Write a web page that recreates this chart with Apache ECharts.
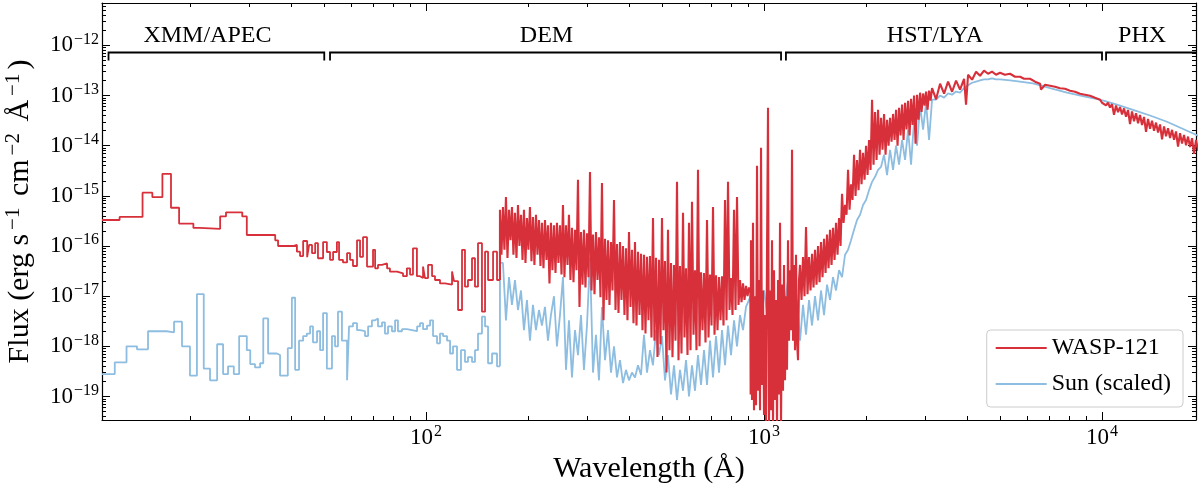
<!DOCTYPE html>
<html>
<head>
<meta charset="utf-8">
<script src="https://cdn.jsdelivr.net/npm/echarts@6/dist/echarts.min.js"></script>
<style>
  html, body { margin: 0; padding: 0; background: #fff; }
  #chart { width: 1200px; height: 488px; }
</style>
</head>
<body>
<div id="chart"></div>
<script>
///////////////////////////////////////////////////
// Data: [wavelength (Å), flux]
///////////////////////////////////////////////////
// WASP-121, binned parts (drawn as steps)
var waspXmm = [
  [11.0, 3.3e-16], [12.4, 3.8e-16], [14.5, 1.16e-15], [15.5, 9.4e-16], [16.6, 2.75e-15],
  [17.6, 5.8e-16], [18.6, 2.8e-16], [20.5, 2.3e-16], [21.4, 2.2e-16], [24.6, 3.9e-16],
  [25.6, 4.7e-16], [28.6, 3.9e-16], [29.5, 1.66e-16], [35.8, 1.3e-16], [36.5, 1.0e-16],
  [40.4, 1.05e-16], [41.5, 7.7e-17], [42.4, 6.3e-17], [43.3, 1.26e-16], [44.5, 6.0e-17],
  [45.1, 1.05e-16], [46.0, 7.2e-17], [47.0, 1.14e-16], [47.9, 5.7e-17], [49.6, 1.2e-16]
];
var waspDemBinned = [
  [50.9, 7.6e-17], [52.0, 5.3e-17], [53.1, 7.6e-17], [54.5, 1.2e-16], [55.3, 5.3e-17],
  [56.8, 4.7e-17], [58.4, 7.2e-17], [59.6, 5.3e-17], [60.8, 4.0e-17], [62.5, 1.3e-16],
  [63.8, 6.1e-17], [65.1, 1.5e-16], [66.9, 3.9e-17], [69.7, 8.4e-17], [70.7, 3.6e-17],
  [72.1, 4.2e-17], [74.1, 4.5e-17], [76.7, 3.6e-17], [78.2, 3.1e-17], [82.1, 2.85e-17],
  [85.5, 2.5e-17], [87.8, 3.6e-17], [89.7, 2.7e-17], [91.5, 9.0e-17], [94.0, 2.5e-17],
  [96.0, 2.3e-17], [98.0, 3.9e-17], [99.3, 2.3e-17], [101.4, 4.2e-17], [104.2, 2.5e-17],
  [106.3, 2.1e-17], [110.0, 1.8e-17], [113.8, 1.7e-17], [119.4, 3.1e-17], [121.0, 2.0e-17],
  [124.4, 5.3e-18], [127.8, 8.4e-17], [130.4, 1.55e-17], [133.1, 2.1e-17], [136.8, 5.7e-17],
  [139.6, 1.55e-17], [142.5, 1.14e-16], [146.4, 4.9e-18], [149.5, 7.7e-17], [152.6, 2.1e-17],
  [157.9, 7.7e-17], [162.2, 2.1e-17], [165.5, 2.1e-17]
];
// WASP-121, line-rich parts
var waspDemLines = [
  [165.5, 2.1e-17], [165.5, 5.3e-16], [167.2, 6.7e-17], [168.9, 6.0e-16], [170.6, 8.4e-17],
  [172.4, 9.5e-16], [174.2, 5.8e-17], [176.0, 5.3e-16], [177.8, 1.3e-16], [179.6, 6.0e-16],
  [181.4, 6.7e-17], [183.3, 4.6e-16], [185.2, 5.8e-17], [187.1, 6.6e-16], [189.0, 1.0e-16],
  [191.0, 4.2e-16], [193.0, 5.3e-17], [194.9, 5.3e-16], [196.9, 4.6e-17], [198.9, 3.6e-16],
  [200.9, 8.4e-17], [203.0, 6.0e-16], [205.1, 5.0e-17], [207.2, 3.8e-16], [209.3, 4.2e-17],
  [211.5, 4.2e-16], [213.7, 6.7e-17], [215.9, 3.3e-16], [218.1, 4.0e-17], [220.3, 2.9e-16],
  [222.6, 3.6e-17], [224.9, 3.3e-16], [227.2, 5.3e-17], [229.5, 2.6e-16], [231.9, 1.8e-17],
  [234.2, 2.9e-16], [236.6, 3.3e-17], [239.1, 2.6e-16], [241.6, 2.9e-17], [244.0, 2.9e-16],
  [246.5, 4.6e-17], [249.1, 2.6e-16], [251.7, 2.7e-17], [254.2, 6.6e-16], [256.8, 2.4e-17],
  [259.5, 2.6e-16], [262.2, 4.2e-17], [264.8, 4.2e-16], [267.5, 2.1e-17], [270.3, 2.3e-16],
  [273.1, 1.9e-17], [275.9, 2.1e-16], [278.7, 3.3e-17], [281.6, 2.1e-15], [284.5, 6.1e-18],
  [287.4, 1.9e-16], [290.4, 1.7e-17], [293.3, 2.1e-16], [296.3, 1.5e-17], [299.4, 1.8e-16],
  [302.5, 2.4e-17], [305.6, 3.0e-15], [308.7, 1.3e-17], [311.9, 1.7e-16], [315.1, 1.1e-17],
  [318.3, 1.9e-16], [321.6, 2.1e-17], [324.9, 1.5e-16], [328.2, 9.5e-18], [331.6, 1.8e-15],
  [335.0, 3.3e-18], [338.5, 1.4e-16], [342.0, 8.4e-18], [345.5, 1.3e-16], [349.0, 6.7e-18],
  [352.6, 1.2e-16], [356.2, 1.3e-17], [359.9, 8.3e-16], [363.6, 5.3e-18], [367.3, 1.1e-16],
  [371.1, 4.6e-18], [374.9, 1.2e-16], [378.7, 8.4e-18], [382.6, 1.0e-16], [386.5, 4.2e-18],
  [390.5, 9.0e-17], [394.5, 3.3e-18], [398.6, 1.9e-16], [402.7, 6.1e-18], [406.8, 8.4e-17],
  [411.0, 2.9e-18], [415.2, 1.2e-16], [419.5, 2.6e-18], [423.8, 7.7e-17], [428.2, 4.2e-18],
  [432.6, 7.0e-17], [437.0, 2.1e-18], [441.5, 6.7e-17], [446.0, 1.8e-18], [450.6, 6.1e-17],
  [455.2, 3.3e-18], [459.9, 6.3e-17], [464.6, 1.5e-18], [469.4, 3.6e-16], [474.2, 1.3e-18],
  [479.1, 5.8e-17], [484.0, 6.1e-19], [489.0, 5.3e-17], [494.0, 1.1e-18], [499.1, 3.6e-16],
  [504.2, 2.1e-18], [509.4, 5.0e-17], [514.6, 3.0e-19], [519.9, 2.1e-16], [525.2, 8.4e-19],
  [530.7, 4.6e-17], [536.1, 6.1e-19], [541.6, 4.2e-17], [547.2, 1.3e-18], [552.8, 1.9e-15],
  [558.5, 5.3e-19], [564.2, 4.0e-17], [570.0, 7.2e-19], [575.9, 4.6e-16], [581.8, 1.5e-18],
  [587.8, 3.6e-17], [593.8, 6.7e-19], [599.9, 2.9e-16], [606.1, 8.4e-19], [612.3, 7.6e-16],
  [618.6, 1.7e-18], [624.9, 3.3e-17], [631.3, 8.4e-19], [637.8, 3.3e-15], [644.4, 1.0e-18],
  [651.0, 3.0e-17], [657.7, 2.1e-18], [664.5, 2.9e-17], [671.3, 1.2e-18], [678.2, 3.3e-16],
  [685.2, 1.5e-18], [692.2, 2.7e-17], [699.3, 2.6e-18], [706.5, 6.0e-16], [713.8, 1.7e-18],
  [721.1, 2.6e-17], [728.5, 2.1e-18], [736.0, 2.4e-17], [743.6, 3.3e-18], [751.2, 2.5e-17],
  [758.9, 2.6e-18], [766.7, 8.3e-16], [774.6, 3.3e-18], [782.5, 1.9e-15], [790.5, 5.3e-18],
  [798.7, 2.3e-17], [806.9, 4.2e-18], [815.2, 5.3e-16], [823.6, 5.3e-18], [832.0, 9.5e-16],
  [840.5, 6.7e-18], [849.2, 2.1e-17], [857.9, 7.6e-18], [866.7, 1.8e-17], [875.6, 8.4e-18],
  [884.6, 1.6e-17], [893.7, 1.0e-17], [902.9, 1.5e-17], [911.0, 1.2e-17]
];
var waspLyman = [
  [913.0, 1.1e-19], [915.2, 1.3e-16], [921.5, 8.5e-20], [927.8, 2.9e-16], [934.1, 5.3e-20],
  [940.5, 1.0e-17], [947.0, 6.7e-20], [953.5, 4.0e-15], [960.0, 1.3e-19], [966.6, 2.1e-17],
  [973.2, 5.3e-20], [979.9, 9.1e-15], [986.5, 1.7e-19], [993.3, 1.3e-17], [1000, 4.3e-20],
  [1006.8, 4.2e-18], [1013.7, 2.7e-20], [1020.6, 6.7e-17], [1027.6, 5.7e-14], [1034.6, 2.5e-20],
  [1041.7, 1.3e-17], [1048.8, 5.3e-20], [1056.0, 1.3e-16], [1063.2, 2.5e-20], [1070.5, 3.3e-17],
  [1077.8, 8.5e-20], [1085.2, 8.4e-18], [1092.6, 2.5e-20], [1100.1, 2.1e-17], [1107.6, 1.1e-19],
  [1115.2, 2.9e-16], [1122.8, 2.5e-20], [1130.5, 1.7e-17], [1138.2, 1.3e-19], [1146.0, 4.2e-17],
  [1153.8, 2.1e-19], [1161.7, 1.0e-17], [1169.7, 3.4e-19], [1177.6, 1.3e-16], [1185.7, 1.3e-18],
  [1193.8, 3.3e-17], [1202.0, 2.1e-18], [1210.2, 8.3e-15], [1218.5, 1.3e-18], [1226.8, 4.2e-17],
  [1235.2, 8.4e-19], [1243.6, 6.7e-17], [1252.1, 1.3e-18], [1260.7, 5.3e-19], [1269.3, 2.1e-17],
  [1278.0, 4.2e-17]
];
var waspUv = [
  [1291.1, 8.4e-18], [1304.4, 6.0e-17], [1317.8, 1.0e-17], [1331.3, 2.4e-16], [1345.0, 1.1e-17],
  [1358.8, 6.0e-17], [1372.8, 1.3e-17], [1386.9, 7.0e-17], [1401.1, 1.5e-17], [1415.5, 8.4e-17],
  [1430.0, 1.7e-17], [1444.8, 1.0e-16], [1459.6, 1.9e-17], [1474.6, 1.2e-16], [1489.7, 2.4e-17],
  [1505.1, 1.4e-16], [1520.6, 2.9e-17], [1536.2, 1.7e-16], [1552.0, 3.6e-17], [1567.9, 2.1e-16],
  [1584.0, 4.2e-17], [1600.3, 2.3e-16], [1616.7, 5.3e-17], [1633.3, 2.9e-16], [1650.1, 6.7e-17],
  [1667.1, 3.6e-16], [1684.2, 1.0e-16], [1701.5, 1.1e-15], [1719.0, 2.9e-16], [1736.7, 6.6e-16],
  [1754.5, 4.2e-16], [1772.5, 3.3e-15], [1790.7, 5.3e-16], [1809.1, 1.7e-15], [1827.7, 8.3e-16],
  [1846.5, 6.6e-15], [1865.5, 1.0e-15], [1884.6, 5.2e-15], [1904.0, 1.3e-15], [1923.6, 8.3e-15],
  [1943.3, 1.7e-15], [1963.3, 7.2e-15], [1983.5, 2.1e-15], [2003.9, 1.0e-14], [2024.5, 2.6e-15],
  [2045.3, 1.3e-14], [2066.3, 3.3e-15], [2087.5, 8.2e-14], [2108.9, 4.2e-15], [2130.6, 4.7e-14],
  [2152.5, 5.2e-15], [2174.6, 5.2e-14], [2197.0, 6.6e-15], [2219.5, 3.6e-14], [2242.3, 8.3e-15],
  [2265.4, 4.3e-14], [2288.7, 6.6e-15], [2312.2, 3.3e-14], [2335.9, 1.0e-14], [2359.9, 3.6e-14],
  [2384.1, 1.2e-14], [2408.7, 4.3e-14], [2433.4, 1.3e-14], [2458.4, 5.2e-14], [2483.7, 1.0e-14],
  [2509.2, 5.7e-14], [2535.0, 1.6e-14], [2561.0, 6.6e-14], [2587.3, 1.3e-14], [2613.9, 7.2e-14],
  [2640.7, 2.1e-14], [2667.9, 7.9e-14], [2695.3, 1.6e-14], [2723.0, 8.6e-14], [2751.0, 2.6e-14],
  [2779.3, 1.0e-13], [2807.8, 1.1e-14], [2836.7, 1.04e-13], [2865.8, 3.3e-14], [2895.3, 1.14e-13],
  [2925.0, 4.7e-14], [2955.1, 1.1e-13], [2985.4, 6.3e-14], [3016.1, 1.2e-13], [3047.1, 5.2e-14],
  [3078.4, 1.25e-13], [3110.0, 7.9e-14], [3142.0, 1.4e-13]
];
var waspOptical = [
  [3229, 8.4e-14], [3318, 1.72e-13], [3410, 1.09e-13], [3504, 1.89e-13], [3601, 1.19e-13],
  [3700, 1.98e-13], [3802, 1.31e-13], [3907, 2.16e-13], [3960, 6.6e-14], [4015, 2.6e-13],
  [4126, 2.07e-13], [4240, 2.99e-13], [4357, 2.48e-13], [4477, 3.13e-13], [4601, 2.72e-13],
  [4728, 2.99e-13], [4858, 2.6e-13], [4992, 2.85e-13], [5160, 2.6e-13], [5343, 2.72e-13],
  [5530, 2.37e-13], [5721, 2.37e-13], [5880, 2.16e-13], [6124, 2.16e-13], [6337, 1.89e-13],
  [6556, 1.72e-13], [6600, 1.31e-13], [6785, 1.64e-13], [7019, 1.57e-13], [7262, 1.5e-13],
  [7512, 1.4e-13], [7772, 1.37e-13], [8042, 1.25e-13], [8320, 1.19e-13], [8608, 1.09e-13],
  [8905, 1.04e-13], [9216, 9.9e-14], [9534, 9.0e-14]
];
var waspInfrared = [
  [9865, 8.24e-14], [10000, 7.18e-14], [10137, 7.69e-14], [10276, 6.40e-14], [10417, 7.22e-14],
  [10560, 5.76e-14], [10705, 6.74e-14], [10852, 4.12e-14], [11001, 6.32e-14], [11152, 4.66e-14],
  [11305, 5.89e-14], [11460, 4.20e-14], [11617, 5.53e-14], [11777, 3.77e-14], [11938, 5.16e-14],
  [12102, 2.70e-14], [12268, 4.84e-14], [12436, 3.07e-14], [12607, 4.45e-14], [12780, 2.81e-14],
  [12955, 4.08e-14], [13133, 2.59e-14], [13313, 3.74e-14], [13496, 1.89e-14], [13681, 3.43e-14],
  [13869, 2.17e-14], [14059, 3.16e-14], [14252, 1.99e-14], [14448, 2.89e-14], [14646, 1.83e-14],
  [14847, 2.65e-14], [15051, 1.34e-14], [15257, 2.43e-14], [15466, 1.54e-14], [15679, 2.24e-14],
  [15894, 1.42e-14], [16112, 2.07e-14], [16333, 1.31e-14], [16557, 1.92e-14], [16784, 9.55e-15],
  [17014, 1.78e-14], [17248, 1.11e-14], [17485, 1.64e-14], [17725, 1.02e-14], [17968, 1.52e-14],
  [18215, 9.38e-15], [18465, 1.41e-14], [18718, 6.86e-15], [18975, 1.31e-14], [19235, 7.91e-15]
];

// Sun (scaled), binned parts
var sunXmm = [
  [11.0, 2.8e-19], [12.0, 4.8e-19], [13.0, 1.0e-18], [13.96, 8.7e-19], [15.05, 2.0e-18],
  [17.1, 1.9e-18], [17.97, 3.1e-18], [18.97, 1.0e-18], [20.03, 2.6e-19], [21.0, 1.1e-17],
  [22.0, 3.6e-19], [22.96, 2.1e-19], [24.1, 1.1e-18], [25.1, 2.8e-19], [25.96, 4.0e-19],
  [27.0, 2.8e-19], [28.0, 1.6e-18], [29.5, 8.4e-19], [30.2, 4.4e-19], [31.2, 3.8e-19],
  [32.3, 4.6e-19], [33.0, 3.6e-18], [34.1, 7.2e-19], [36.2, 6.7e-19], [37.0, 2.6e-19],
  [39.0, 9.2e-19], [40.1, 9.3e-18], [41.0, 3.4e-19], [42.1, 1.3e-18], [43.3, 1.6e-18],
  [44.4, 1.8e-18], [45.4, 2.5e-18], [46.3, 1.2e-18], [47.6, 2.0e-18], [48.6, 8.4e-19],
  [49.6, 4.6e-18]
];
var sunDemBinned = [
  [50.9, 3.6e-19], [52.7, 1.6e-18], [53.8, 1.0e-18], [54.9, 4.9e-18], [56.4, 1.3e-18],
  [58.4, 2.1e-19], [59.2, 2.5e-18], [60.8, 2.9e-18], [62.5, 2.1e-18], [63.8, 2.0e-18],
  [66.0, 1.6e-18], [67.4, 2.5e-18], [69.2, 3.3e-18], [70.7, 3.6e-18], [72.1, 2.5e-18],
  [74.1, 3.0e-18], [75.6, 1.8e-18], [77.2, 2.5e-18], [79.3, 2.0e-18], [81.0, 3.3e-18],
  [82.6, 2.0e-18], [84.9, 2.2e-18], [87.8, 2.1e-18], [90.9, 2.0e-18], [94.1, 2.5e-18],
  [96.0, 2.9e-18], [98.0, 2.2e-18], [100.7, 2.6e-18], [102.8, 3.3e-18], [104.9, 1.6e-18],
  [107.8, 1.15e-18], [110.0, 1.8e-18], [112.3, 1.6e-18], [115.4, 1.3e-18], [117.8, 7.2e-19],
  [120.2, 1.0e-18], [123.5, 3.4e-19], [126.9, 8.4e-19], [130.4, 4.9e-19], [133.1, 6.1e-19],
  [136.8, 4.9e-19], [139.6, 8.4e-19], [142.5, 1.8e-18], [146.4, 3.9e-18], [149.5, 2.5e-18],
  [152.6, 4.6e-19], [156.8, 7.2e-19], [162.2, 4.0e-19], [165.5, 4.0e-19]
];
// Sun (scaled), line-rich parts
var sunDemLines = [
  [165.5, 4.0e-19], [165.5, 4.6e-17], [168.9, 4.6e-17], [172.4, 3.3e-18], [176.0, 2.4e-17],
  [179.6, 6.7e-18], [183.3, 2.1e-17], [187.1, 5.3e-18], [191.0, 1.3e-17], [194.9, 2.1e-18],
  [198.9, 8.4e-18], [203.0, 1.3e-18], [207.2, 6.7e-18], [211.5, 2.1e-18], [215.9, 5.3e-18],
  [220.3, 2.6e-18], [224.9, 6.1e-18], [229.5, 1.3e-18], [234.2, 4.2e-18], [239.1, 1.0e-17],
  [244.0, 1.0e-18], [249.1, 4.2e-18], [254.2, 2.4e-17], [259.5, 3.4e-19], [264.8, 3.3e-18],
  [270.3, 2.4e-19], [275.9, 2.1e-18], [281.6, 6.7e-19], [287.4, 4.2e-18], [293.3, 3.4e-19],
  [299.4, 2.6e-18], [305.6, 5.8e-17], [311.9, 3.0e-19], [318.3, 1.7e-18], [324.9, 2.1e-19],
  [331.6, 6.1e-18], [338.5, 5.3e-19], [345.5, 2.1e-18], [352.6, 3.0e-19], [359.9, 1.0e-18],
  [367.3, 2.4e-19], [374.9, 5.3e-19], [382.6, 1.85e-19], [390.5, 3.4e-19], [398.6, 2.1e-19],
  [406.8, 3.0e-19], [415.2, 2.4e-19], [423.8, 4.2e-19], [432.6, 2.7e-19], [441.5, 1.7e-18],
  [450.6, 3.0e-19], [459.9, 8.4e-19], [469.4, 4.2e-19], [479.1, 2.1e-18], [489.0, 6.7e-19],
  [499.1, 1.6e-18], [509.4, 2.1e-19], [519.9, 6.7e-19], [530.7, 1.1e-19], [541.6, 4.2e-19],
  [552.8, 8.5e-20], [564.2, 3.4e-19], [575.9, 1.3e-19], [587.8, 5.3e-19], [599.9, 1.0e-19],
  [612.3, 4.2e-19], [624.9, 1.3e-19], [637.8, 6.7e-19], [651.0, 1.7e-19], [664.5, 8.4e-19],
  [678.2, 1.7e-19], [692.2, 1.3e-18], [706.5, 2.4e-19], [721.1, 1.6e-18], [736.0, 3.0e-19],
  [751.2, 2.1e-18], [766.7, 4.2e-19], [782.5, 2.6e-18], [798.7, 6.7e-19], [815.2, 3.3e-18],
  [832.0, 1.0e-18], [849.2, 4.2e-18], [866.7, 2.1e-18], [884.6, 6.1e-18], [902.9, 8.4e-18],
  [911.0, 1.0e-17]
];
var sunUv = [
  [921.5, 3.3e-18], [947.0, 1.0e-17], [973.2, 4.2e-18], [1000, 1.3e-17], [1027.6, 3.3e-18],
  [1056.0, 1.0e-17], [1085.2, 4.2e-18], [1115.2, 1.3e-17], [1146.0, 5.3e-18], [1177.6, 2.1e-17],
  [1202.0, 2.8e-17], [1226.8, 2.1e-18], [1252.1, 8.4e-18], [1278.0, 1.3e-18], [1304.4, 6.7e-18],
  [1331.3, 1.7e-18], [1358.8, 8.4e-18], [1386.9, 2.6e-18], [1415.5, 1.0e-17], [1444.8, 3.3e-18],
  [1474.6, 1.3e-17], [1505.1, 4.2e-18], [1536.2, 1.7e-17], [1567.9, 8.4e-18], [1600.3, 2.4e-17],
  [1633.3, 1.3e-17], [1667.1, 3.3e-17], [1701.5, 2.4e-17], [1736.7, 6.7e-17], [1772.5, 8.4e-17],
  [1809.1, 1.3e-16], [1846.5, 2.1e-16], [1884.6, 3.3e-16], [1923.6, 4.2e-16], [1963.3, 6.6e-16],
  [2003.9, 8.3e-16], [2045.3, 1.3e-15], [2087.5, 1.9e-15], [2130.6, 2.4e-15], [2174.6, 3.3e-15],
  [2219.5, 3.8e-15], [2265.4, 6.6e-15], [2312.2, 2.6e-15], [2359.9, 8.3e-15], [2408.7, 3.3e-15],
  [2458.4, 1.0e-14], [2509.2, 4.2e-15], [2561.0, 1.3e-14], [2613.9, 5.2e-15], [2667.9, 2.1e-14],
  [2723.0, 4.2e-15], [2779.3, 3.3e-14], [2836.7, 1.0e-14], [2895.3, 6.3e-14], [2955.1, 2.1e-14],
  [3016.1, 7.2e-14], [3078.4, 1.3e-14], [3142.0, 8.3e-14]
];
var sunOptical = [
  [3229, 8.3e-14], [3318, 1.0e-13], [3410, 9.1e-14], [3504, 1.1e-13], [3601, 1.04e-13],
  [3700, 1.2e-13], [3802, 1.14e-13], [3907, 1.4e-13], [4015, 1.6e-13], [4126, 1.8e-13],
  [4240, 1.9e-13], [4357, 2.0e-13], [4477, 2.1e-13], [4601, 2.1e-13], [4728, 2.2e-13],
  [4858, 2.1e-13], [4992, 2.1e-13], [5343, 2.0e-13], [5721, 1.9e-13], [6251, 1.75e-13],
  [7019, 1.4e-13], [7878, 1.14e-13], [8905, 9.5e-14], [9865, 8.3e-14], [11076, 6.6e-14],
  [12352, 5.2e-14], [13868, 4.0e-14], [15569, 3.0e-14], [17249, 2.2e-14], [18972, 1.65e-14],
  [19500, 1.5e-14]
];

// Top brackets: which model/instrument covers which wavelength range
var regionNames = ['XMM/APEC', 'DEM', 'HST/LYA', 'PHX'];
var regionStart = [11.5, 52, 1161, 10280];
var regionEnd = [50, 1123, 10000, 40000];

// Axis ranges
var X_MIN = 11, X_MAX = 18970;
var Y_MIN = 3.4e-20, Y_MAX = 7.0e-12;

///////////////////////////////////////////////////
// Chart
///////////////////////////////////////////////////
var SERIF = '"Liberation Serif", "DejaVu Serif", serif';
var RED = '#d7303a';
var BLUE = '#8dbde0';

// tick positions k * 10^e inside [lo, hi]
function decadeTicks(lo, hi, ks) {
  var out = [];
  for (var e = Math.floor(Math.log10(lo)); e <= Math.ceil(Math.log10(hi)); e++) {
    ks.forEach(function (k) {
      var v = k * Math.pow(10, e);
      if (v >= lo * 0.999 && v <= hi * 1.001) out.push(v);
    });
  }
  return out;
}
var MINOR = [2, 3, 4, 5, 6, 7, 8, 9];
var xMajor = decadeTicks(X_MIN, X_MAX, [1]);
var xMinor = decadeTicks(X_MIN, X_MAX, MINOR);
var yMajor = decadeTicks(Y_MIN, Y_MAX, [1]);
var yMinor = decadeTicks(Y_MIN, Y_MAX, MINOR);

function powerLabel(v) {
  var e = Math.round(Math.log10(v));
  return '{b|10}{s|' + (e < 0 ? '\u2212' + (-e) : e) + '}';
}
var labelRich = {
  b: { fontFamily: SERIF, fontSize: 23, color: '#000' },
  s: { fontFamily: SERIF, fontSize: 16, color: '#000', padding: [0, 0, 12, 1] }
};

function logAxis(dim, position, ticks, tickLen, withLine, withLabels) {
  return {
    type: 'log',
    logBase: 10,
    position: position,
    min: dim === 'x' ? X_MIN : Y_MIN,
    max: dim === 'x' ? X_MAX : Y_MAX,
    axisLine: { show: withLine, onZero: false, lineStyle: { color: '#000', width: 1.2 } },
    axisTick: {
      show: true, inside: true, length: tickLen, customValues: ticks,
      lineStyle: { color: '#000', width: 1 }
    },
    axisLabel: {
      show: withLabels,
      customValues: dim === 'x' ? xMajor : yMajor,
      margin: dim === 'x' ? 4 : 3,
      formatter: powerLabel,
      rich: labelRich
    },
    splitLine: { show: false },
    minorTick: { show: false },
    minorSplitLine: { show: false }
  };
}

var xAxes = [
  logAxis('x', 'bottom', xMajor, 8, true, true),
  logAxis('x', 'bottom', xMinor, 4, false, false),
  logAxis('x', 'top', xMajor, 8, true, false),
  logAxis('x', 'top', xMinor, 4, false, false)
];
xAxes[0].name = 'Wavelength (\u00c5)';
xAxes[0].nameLocation = 'middle';
xAxes[0].nameGap = 29;
xAxes[0].nameTextStyle = { fontFamily: SERIF, fontSize: 30, color: '#000' };

var yAxes = [
  logAxis('y', 'left', yMajor, 8, true, true),
  logAxis('y', 'left', yMinor, 4, false, false),
  logAxis('y', 'right', yMajor, 8, true, false),
  logAxis('y', 'right', yMinor, 4, false, false)
];
yAxes[0].name = '{t|Flux (erg s}{u|\u22121}{t| cm}{u|\u22122}{t| \u00c5}{u|\u22121}{t|)}';
yAxes[0].nameLocation = 'middle';
yAxes[0].nameRotate = 90;
yAxes[0].nameGap = 64;
yAxes[0].nameTextStyle = {
  rich: {
    t: { fontFamily: SERIF, fontSize: 30, color: '#000' },
    u: { fontFamily: SERIF, fontSize: 21, color: '#000', padding: [0, 4, 14, 4] }
  }
};

function renderBracket(params, api) {
  var cs = params.coordSys;
  var x0 = api.coord([api.value(0), Y_MAX])[0];
  var x1 = api.coord([api.value(1), Y_MAX])[0];
  var clipRight = x1 > cs.x + cs.width;
  x0 = Math.max(x0, cs.x);
  x1 = Math.min(x1, cs.x + cs.width);
  var yb = cs.y + 49.5;
  var pts = [[x0, yb + 8], [x0, yb], [x1, yb]];
  if (!clipRight) pts.push([x1, yb + 8]);
  return {
    type: 'group',
    children: [
      { type: 'polyline', shape: { points: pts }, style: { stroke: '#000', lineWidth: 1.8, fill: null } },
      {
        type: 'text',
        style: {
          text: regionNames[params.dataIndex],
          x: (x0 + x1) / 2 - 9, y: cs.y + 33,
          align: 'center', verticalAlign: 'middle',
          font: '24px ' + SERIF, fill: '#000'
        }
      }
    ]
  };
}

function spectrumSeries(name, data, color, stepped, width, z) {
  return {
    name: name,
    type: 'line',
    step: stepped ? 'end' : false,
    data: data,
    symbol: 'none',
    showSymbol: false,
    lineStyle: { color: color, width: width, join: 'bevel' },
    itemStyle: { color: color },
    z: z
  };
}

var chart = echarts.init(document.getElementById('chart'), null, { renderer: 'canvas' });
chart.setOption({
  animation: false,
  backgroundColor: '#fff',
  grid: { left: 102, right: 4, top: 3, bottom: 68, containLabel: false, outerBoundsMode: 'none' },
  xAxis: xAxes,
  yAxis: yAxes,
  legend: {
    data: ['WASP-121', 'Sun (scaled)'],
    orient: 'vertical',
    right: 17,
    top: 330,
    padding: [6, 12, 11, 9],
    icon: 'rect',
    itemWidth: 51,
    itemHeight: 2,
    itemGap: 12,
    backgroundColor: 'rgba(255,255,255,0.8)',
    borderColor: '#cccccc',
    borderWidth: 1,
    borderRadius: 4,
    textStyle: { fontFamily: SERIF, fontSize: 24, lineHeight: 24, color: '#000' }
  },
  series: [
    spectrumSeries('Sun (scaled)', sunXmm.concat(sunDemBinned), BLUE, true, 1.8, 2),
    spectrumSeries('Sun (scaled)', sunDemLines.concat(sunUv, sunOptical), BLUE, false, 1.8, 2),
    spectrumSeries('WASP-121', waspXmm.concat(waspDemBinned), RED, true, 1.8, 3),
    spectrumSeries('WASP-121', waspDemLines.concat(waspLyman, waspUv, waspOptical, waspInfrared), RED, false, 2.1, 3),
    {
      type: 'custom',
      coordinateSystem: 'cartesian2d',
      encode: { x: [0, 1] },
      data: regionStart.map(function (s, i) { return [s, regionEnd[i]]; }),
      renderItem: renderBracket,
      clip: false,
      silent: true,
      z: 5
    }
  ]
});
</script>
</body>
</html>
